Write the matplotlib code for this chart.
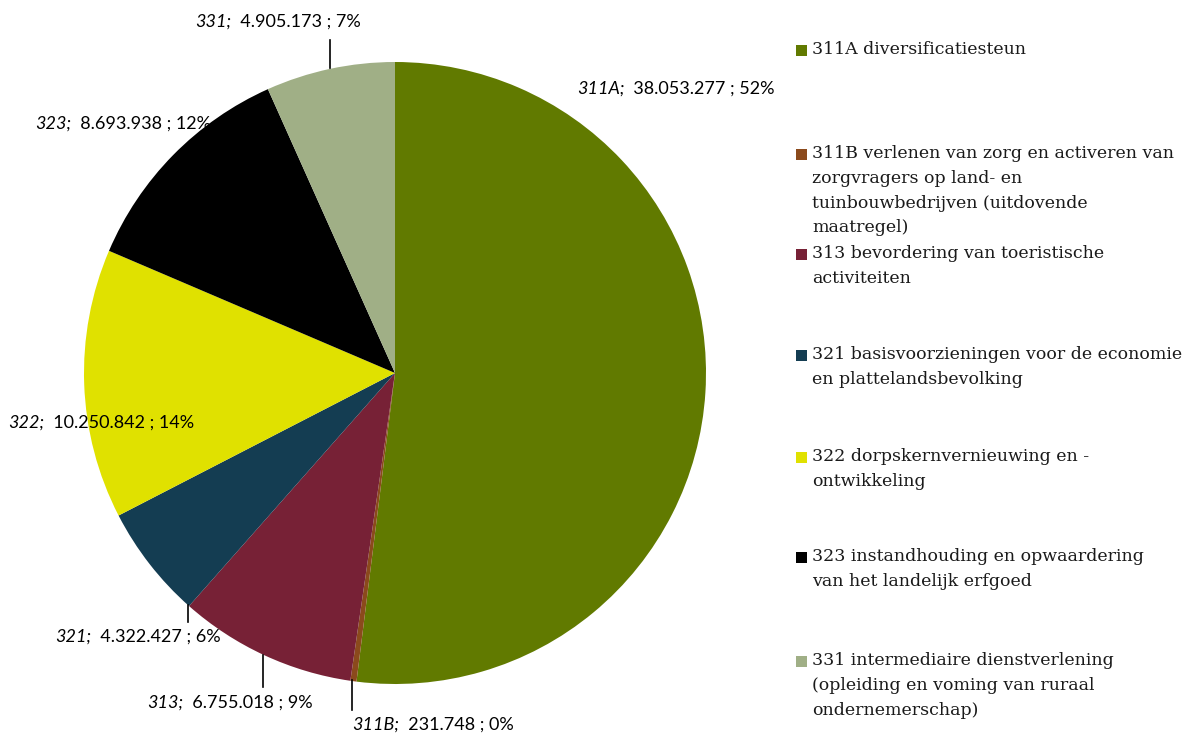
import matplotlib
matplotlib.use("Agg")
import matplotlib.pyplot as plt

codes = ["311A", "311B", "313", "321", "322", "323", "331"]
values = [38053277, 231748, 6755018, 4322427, 10250842, 8693938, 4905173]
colors = ["#617A00", "#8B4A1C", "#772136", "#143D52", "#E0E100", "#000000", "#A0AF86"]
legend_labels = [
    "311A diversificatiesteun",
    "311B verlenen van zorg en activeren van\nzorgvragers op land- en\ntuinbouwbedrijven (uitdovende\nmaatregel)",
    "313 bevordering van toeristische\nactiviteiten",
    "321 basisvoorzieningen voor de economie\nen plattelandsbevolking",
    "322 dorpskernvernieuwing en -\nontwikkeling",
    "323 instandhouding en opwaardering\nvan het landelijk erfgoed",
    "331 intermediaire dienstverlening\n(opleiding en voming van ruraal\nondernemerschap)",
]

W, H = 1194, 733
fig = plt.figure(figsize=(W / 100, H / 100), dpi=100)
ax = fig.add_axes([0, 0, 1, 1])

cx, cy, r = 395, H - 373, 311
ax.pie(values, colors=colors, startangle=90, counterclock=False,
       center=(cx, cy), radius=r, frame=True,
       wedgeprops=dict(linewidth=0))
ax.set_xlim(0, W)
ax.set_ylim(0, H)
ax.set_aspect("equal")
ax.axis("off")

total = sum(values)
lab_font = "Lato"
fs = 13

# label positions (pixel coords, text baseline-left) and leader lines
label_pos = {
    "311A": (577, 94),
    "311B": (352, 730),
    "313": (147, 708),
    "321": (55, 642),
    "322": (8, 428),
    "323": (35, 129),
    "331": (195, 27),
}
leaders = {
    "331": (330, 40, 68),
    "321": (188, 605, 622),
    "313": (263, 655, 687),
    "311B": (352, 680, 710),
}

for code, v in zip(codes, values):
    x, y = label_pos[code]
    pct = round(v / total * 100)
    val = f"{v:,}".replace(",", ".")
    t = ax.text(x, H - y, f"{code};", fontsize=fs, style="italic",
                family=lab_font, ha="left", va="baseline", color="#000000")
    ax.annotate(f"  {val} ; {pct}%", xy=(1, 0), xycoords=t,
                fontsize=fs, family=lab_font, ha="left", va="bottom",
                color="#000000")
    if code in leaders:
        lx, y0, y1 = leaders[code]
        ax.plot([lx, lx], [H - y0, H - y1], color="black", lw=1.2)

# legend
leg_y = [50, 154, 254, 355, 457, 557, 661]
for lab, col, y in zip(legend_labels, colors, leg_y):
    ax.add_patch(plt.Rectangle((796, H - y - 6), 11, 11, color=col, lw=0))
    if "\n" in lab:
        ax.text(812, H - y + 9, lab, fontsize=12.5, family="DejaVu Serif",
                ha="left", va="top", linespacing=1.6, color="#1a1a1a")
    else:
        ax.text(812, H - y, lab, fontsize=12.5, family="DejaVu Serif",
                ha="left", va="center", color="#1a1a1a")

fig.savefig("out.png", dpi=100)
